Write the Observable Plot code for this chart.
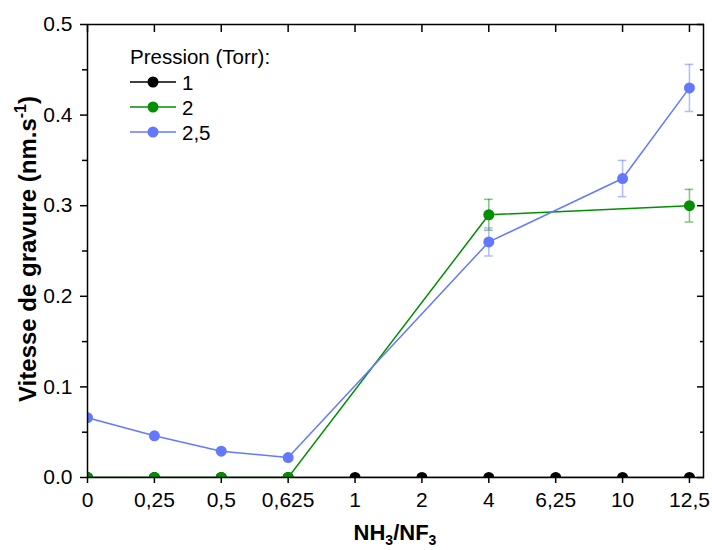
<!DOCTYPE html>
<html>
<head>
<meta charset="utf-8">
<script src="https://cdn.jsdelivr.net/npm/d3@7"></script>
<script src="https://cdn.jsdelivr.net/npm/@observablehq/plot@0.6"></script>
<style>
  html, body { margin: 0; padding: 0; background: white; }
  #chart { width: 712px; height: 550px; }
</style>
</head>
<body>
<div id="chart"></div>
<script>
// ---- data ----
const categories = ["0", "0,25", "0,5", "0,625", "1", "2", "4", "6,25", "10", "12,5"];
const seriesNames = ["1", "2", "2,5"];
const seriesColors = ["#000000", "#009000", "#6478ff"];
const values1  = [0, 0, 0, 0, 0, 0, 0, 0, 0, 0];
const values2  = [0, 0, 0, 0, null, null, 0.290, null, null, 0.300];
const values25 = [0.066, 0.046, 0.029, 0.022, null, null, 0.260, null, 0.330, 0.430];
const err1  = [null, null, null, null, null, null, null, null, null, null];
const err2  = [null, null, null, null, null, null, 0.017, null, null, 0.018];
const err25 = [null, null, null, null, null, null, 0.0155, null, 0.020, 0.026];
const yMajorTicks = [0, 0.1, 0.2, 0.3, 0.4, 0.5];
const yMinorTicks = [0.05, 0.15, 0.25, 0.35, 0.45];

const allValues = [values1, values2, values25];
const allErrors = [err1, err2, err25];

const seriesRows = allValues.map((vals, s) =>
  vals.map((v, i) => ({series: seriesNames[s], i, v, e: allErrors[s][i]})).filter(d => d.v != null)
);
const idx = d3.range(categories.length);

const marks = [
  Plot.axisY({anchor: "left", ticks: yMajorTicks, tickSize: 7, tickPadding: 8, tickFormat: d3.format(".1f"), label: null, strokeWidth: 1.5, fontSize: 21}),
  Plot.axisY({anchor: "left", ticks: yMinorTicks, tickSize: 5, tickFormat: () => "", label: null, strokeWidth: 1.5}),
  Plot.axisY({anchor: "right", ticks: yMajorTicks, tickSize: 7, dx: -7, tickFormat: () => "", label: null, strokeWidth: 1.5}),
  Plot.axisY({anchor: "right", ticks: yMinorTicks, tickSize: 4, dx: -4, tickFormat: () => "", label: null, strokeWidth: 1.5}),
  Plot.axisX({anchor: "bottom", ticks: idx, tickSize: 6, tickPadding: 9, tickFormat: i => categories[i], label: null, strokeWidth: 1.5, fontSize: 21}),
  Plot.axisX({anchor: "top", ticks: idx, tickSize: 7, dy: 7, tickFormat: () => "", label: null, strokeWidth: 1.5}),
];

seriesRows.forEach((rows, s) => {
  const color = seriesColors[s];
  const er = rows.filter(d => d.e != null);
  marks.push(
    Plot.ruleX(er, {x: "i", y1: d => d.v - d.e, y2: d => d.v + d.e, stroke: color, strokeOpacity: 0.5, strokeWidth: 1.5}),
    Plot.ruleY(er, {y: d => d.v + d.e, x1: d => d.i - 0.065, x2: d => d.i + 0.065, stroke: color, strokeOpacity: 0.5, strokeWidth: 1.5}),
    Plot.ruleY(er, {y: d => d.v - d.e, x1: d => d.i - 0.065, x2: d => d.i + 0.065, stroke: color, strokeOpacity: 0.5, strokeWidth: 1.5}),
    Plot.line(rows, {x: "i", y: "v", stroke: color, strokeWidth: 1.5, clip: true}),
    Plot.dot(rows, {x: "i", y: "v", r: 5.5, fill: color, stroke: "none", clip: true})
  );
});
marks.push(Plot.frame({stroke: "black", strokeWidth: 1.5}));

const chart = Plot.plot({
  width: 712,
  height: 550,
  marginLeft: 87,
  marginRight: 9,
  marginTop: 24,
  marginBottom: 73,
  x: {type: "linear", domain: [0, 9.21]},
  y: {domain: [0, 0.5]},
  style: {fontFamily: "'Liberation Sans', Arial, sans-serif", fontSize: "21px", color: "black", background: "white"},
  marks
});
document.getElementById("chart").appendChild(chart);

// ---- titles & legend ----
const svg = d3.select(chart);
const font = "'Liberation Sans', Arial, sans-serif";

const yt = svg.append("text")
  .attr("transform", "translate(36,249) rotate(-90)")
  .attr("text-anchor", "middle")
  .attr("font-family", font).attr("font-weight", "bold").attr("font-size", 24).attr("fill", "black");
yt.append("tspan").text("Vitesse de gravure (nm.s");
yt.append("tspan").attr("dy", -10).attr("font-size", 16).text("-1");
yt.append("tspan").attr("dy", 10).text(")");

const xt = svg.append("text")
  .attr("x", 395).attr("y", 540)
  .attr("text-anchor", "middle")
  .attr("font-family", font).attr("font-weight", "bold").attr("font-size", 22).attr("fill", "black");
xt.append("tspan").text("NH");
xt.append("tspan").attr("dy", 5).attr("font-size", 14).text("3");
xt.append("tspan").attr("dy", -5).text("/NF");
xt.append("tspan").attr("dy", 5).attr("font-size", 14).text("3");

const lg = svg.append("g").attr("font-family", font).attr("font-size", 20.5).attr("fill", "black").attr("text-anchor", "start");
lg.append("text").attr("x", 130).attr("y", 64).text("Pression (Torr):");
seriesNames.forEach((name, s) => {
  const y = 82 + s * 25;
  lg.append("line").attr("x1", 130).attr("x2", 176).attr("y1", y).attr("y2", y)
    .attr("stroke", seriesColors[s]).attr("stroke-width", 1.5);
  lg.append("circle").attr("cx", 153).attr("cy", y).attr("r", 5.5).attr("fill", seriesColors[s]);
  lg.append("text").attr("x", 182).attr("y", y + 7.5).text(name);
});
</script>
</body>
</html>
